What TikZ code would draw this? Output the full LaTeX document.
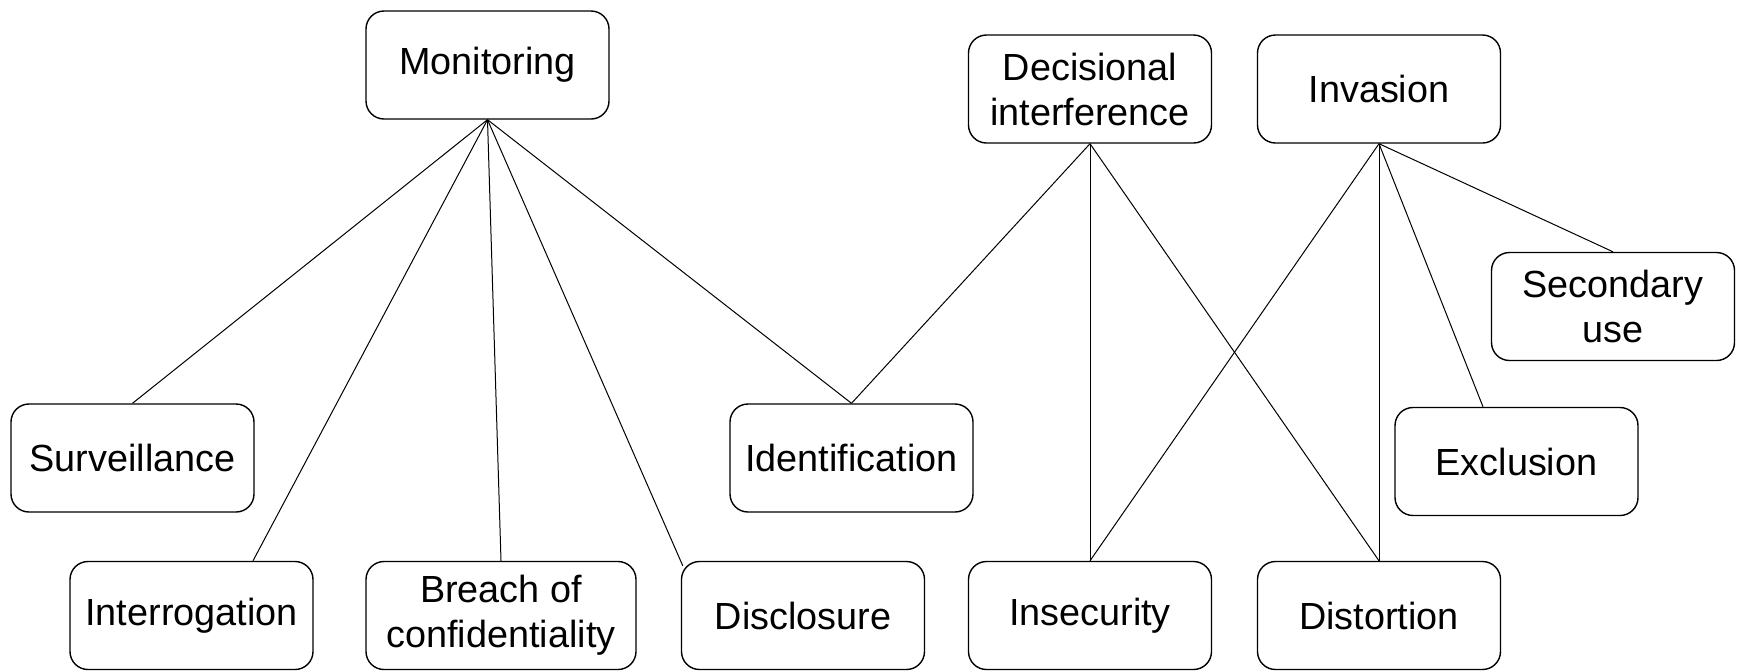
\documentclass[tikz,border=0pt]{standalone}
\usepackage{fontspec}
\setmainfont{Liberation Sans}
\usetikzlibrary{calc}
\begin{document}
\begin{tikzpicture}[x=0.5pt,y=-0.5pt,
  box/.style={draw=black, line width=0.7pt, rounded corners=9pt, minimum width=121.5pt, minimum height=54pt,
    align=center, inner sep=0pt, font=\fontsize{18.9}{22.5}\selectfont},
  link/.style={draw=black, line width=0.5pt}]
\useasboundingbox (0,0) rectangle (1739,671);
\node[box] (mon) at (487.5,65) {Monitoring};
\node[box] (dec) at (1090,89) {Decisional\\interference};
\node[box] (inv) at (1379,89) {Invasion};
\node[box] (sec) at (1613,306.5) {Secondary\\use};
\node[box] (sur) at (132.5,458) {Surveillance};
\node[box] (ide) at (851.5,458) {Identification};
\node[box] (exc) at (1516.5,461.5) {Exclusion};
\node[box] (int) at (191.5,615.5) {Interrogation};
\node[box, minimum width=135pt] (bre) at (501,615.5) {Breach of\\confidentiality};
\node[box] (dis) at (803,615.5) {Disclosure};
\node[box] (ins) at (1090,615.5) {Insecurity};
\node[box] (dst) at (1379,615.5) {Distortion};

\draw[link] (mon.south) -- (sur.north);
\draw[link] (mon.south) -- ($(int.north)+(30.75pt,0)$);
\draw[link] (mon.south) -- (bre.north);
\draw[link] (mon.south) -- ($(dis.north west)+(1pt,-2.5pt)$);
\draw[link] (mon.south) -- (ide.north);
\draw[link] (dec.south) -- (ide.north);
\draw[link] (dec.south) -- (ins.north);
\draw[link] (dec.south) -- (dst.north);
\draw[link] (inv.south) -- (ins.north);
\draw[link] (inv.south) -- (dst.north);
\draw[link] (inv.south) -- ($(exc.north)+(-16.75pt,0)$);
\draw[link] (inv.south) -- (sec.north);
\end{tikzpicture}
\end{document}
